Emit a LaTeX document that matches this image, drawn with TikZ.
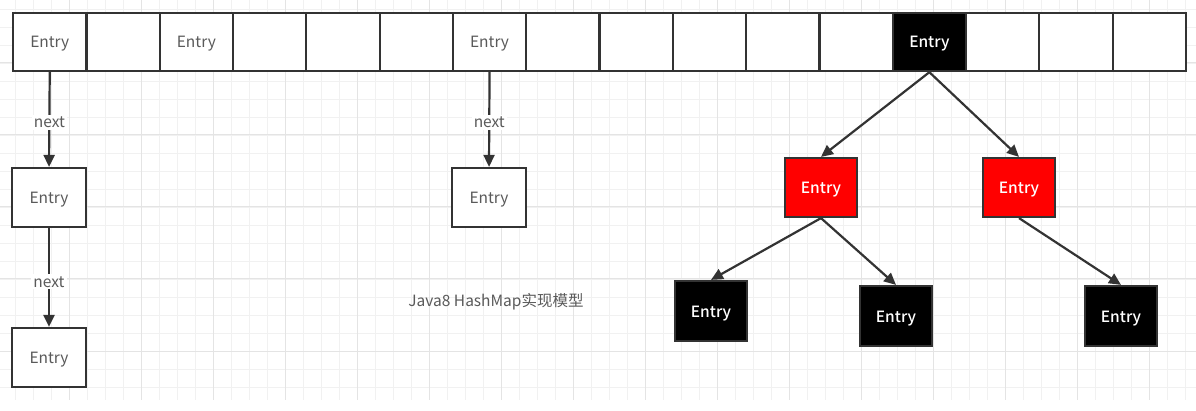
\documentclass[tikz,border=0pt]{standalone}
\usepackage{fontspec}
\setmainfont{Noto Sans CJK SC}
\newfontfamily\medfont{Noto Sans CJK SC Medium}
\usetikzlibrary{arrows.meta}
\definecolor{gridminor}{HTML}{F1F1F1}
\definecolor{gridmajor}{HTML}{E4E4E4}
\definecolor{edgec}{HTML}{333333}
\definecolor{txtc}{HTML}{5A5A5A}
\tikzset{
  fnt/.style={font=\fontsize{15.5}{17}\selectfont},
  cell/.style={draw=edgec, line width=2.2pt, minimum width=73.3pt, minimum height=58pt, inner sep=0pt, fnt, text=txtc, fill=white, anchor=north west},
  wbox/.style={draw=edgec, line width=2.2pt, minimum width=74pt, minimum height=59pt, inner sep=0pt, fnt, text=txtc, fill=white},
  bbox/.style={wbox, fill=black, text=white, draw=edgec, font=\fontsize{15.5}{17}\selectfont\medfont},
  rbox/.style={wbox, fill=red, text=white, draw=edgec, minimum width=72pt, font=\fontsize{15.5}{17}\selectfont\medfont},
  arr/.style={draw=edgec, line width=2.2pt, -{Triangle[length=12pt,width=11pt]}},
  lbl/.style={fill=white, inner sep=2pt, fnt, text=txtc},
  txt/.style={fnt, text=txtc, yshift=-1.5pt},
}
\newcommand{\lowr}[1]{\raisebox{0pt}[\dimexpr\height+5pt\relax][\depth]{#1}}
\newcommand{\ent}{\lowr{Entry}}
\begin{document}
\begin{tikzpicture}[x=1pt,y=-1pt]
\useasboundingbox (0,0) rectangle (1196,411);
\fill[white] (0,0) rectangle (1196,411);
% grid
\foreach \i in {0,...,66} {\draw[gridminor, line width=0.8pt] ({-3+18*\i},0) -- ({-3+18*\i},400);}
\foreach \j in {0,...,22} {\draw[gridminor, line width=0.8pt] (0,{-9+18*\j}) -- (1196,{-9+18*\j});}
\foreach \i in {0,...,16} {\draw[gridmajor, line width=1pt] ({-3+72*\i},0) -- ({-3+72*\i},400);}
\foreach \j in {0,...,5} {\draw[gridmajor, line width=1pt] (0,{-9+72*\j}) -- (1196,{-9+72*\j});}
% array
\foreach \k in {0,...,15} {
  \node[cell] (c\k) at ({12+73.3*\k},12) {};
}
\node[txt] (t0) at (c0.center) {Entry};
\node[txt] (t2) at (c2.center) {Entry};
\node[txt] (t6) at (c6.center) {Entry};
\node[cell, fill=black, anchor=center] (c12) at (c12.center) {};
\node[txt, text=white, font=\fontsize{15.5}{17}\selectfont\medfont] (t12) at (c12.center) {Entry};
% left chain
\node[wbox] (l1) at (49,197.5) {\ent};
\node[wbox] (l2) at (49,357.5) {\ent};
\draw[arr] (c0.south) -- node[lbl, yshift=-2.5pt] {next} (l1.north);
\draw[arr] (l1.south) -- node[lbl, pos=0.52, yshift=-2.5pt] {next} (l2.north);
% middle chain
\node[wbox] (m1) at (489,197.5) {\ent};
\draw[arr] (c6.south) -- node[lbl, yshift=-2.5pt] {next} (m1.north);
% tree
\node[rbox] (r1) at (821,187.5) {\ent};
\node[rbox] (r2) at (1019,187.5) {\ent};
\node[bbox, minimum width=72pt, minimum height=60pt] (b1) at (711,311) {\ent};
\node[bbox, minimum width=72pt, minimum height=60pt] (b2) at (896,316) {\ent};
\node[bbox, minimum width=72pt, minimum height=60pt] (b3) at (1121,316) {\ent};
\draw[arr] (c12.south) -- (r1.north);
\draw[arr] (c12.south) -- (r2.north);
\draw[arr] (r1.south) -- (b1.north);
\draw[arr] (r1.south) -- (b2.north);
\draw[arr] (r2.south) -- (b3.north);
% caption
\node[txt] (cap) at (496,300) {Java8 HashMap实现模型};
\end{tikzpicture}
\end{document}
